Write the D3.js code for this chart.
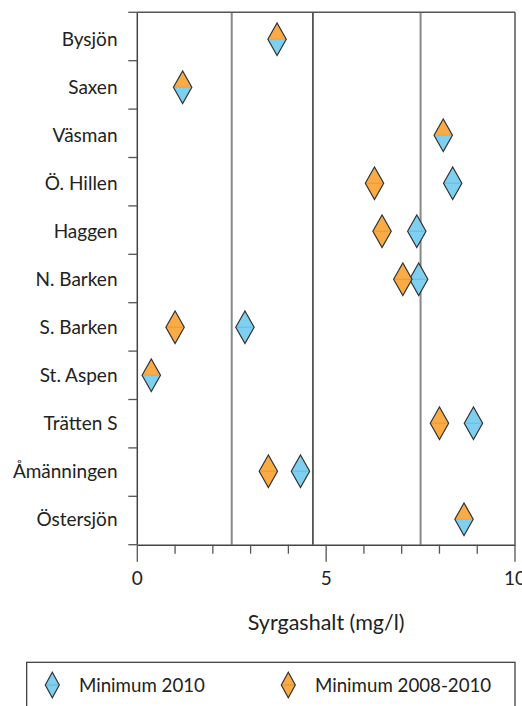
<!DOCTYPE html>
<html>
<head>
<meta charset="utf-8">
<script src="https://cdn.jsdelivr.net/npm/d3@7"></script>
<style>
  html, body { margin: 0; padding: 0; background: #fff; }
  svg { display: block; }
  text { font-family: "Lato", "Open Sans", sans-serif; fill: #222; }
</style>
</head>
<body>
<script>
// Lakes, top to bottom
const lakes = ["Bysjön", "Saxen", "Väsman", "Ö. Hillen", "Haggen", "N. Barken",
               "S. Barken", "St. Aspen", "Trätten S", "Åmänningen", "Östersjön"];
// Lowest oxygen content (mg/l)
const min2010     = [3.7, 1.2, 8.1, 8.35, 7.4, 7.45, 2.85, 0.37, 8.9, 4.32, 8.65];
const min20082010 = [3.7, 1.2, 8.1, 6.28, 6.48, 7.03, 1.0, 0.37, 8.0, 3.47, 8.65];
// Vertical reference levels
const refLevels = [2.5, 4.65, 7.5];
const xTicks = [0, 1, 2, 3, 4, 5, 6, 7, 8, 9, 10];
const xTickLabels = [0, 5, 10];
const seriesNames = ["Minimum 2010", "Minimum 2008-2010"];

const W = 522, H = 706;
const plotLeft = 137.3, plotRight = 515, plotTop = 12.3, plotBottom = 544.7;
const colBlue = "#7fcff1", colOrange = "#fbab45";
const midBlue = "#5fb0d6", midOrange = "#d98f33";

const svg = d3.select("body").append("svg").attr("width", W).attr("height", H);

const x = d3.scaleLinear().domain([0, 10]).range([plotLeft, plotRight]);
// Row positions for markers and labels
const y = d3.scalePoint().domain(lakes).range([39.3, 519.3]);
// Row separators along the left axis
const sep = d3.scaleLinear().domain([0, lakes.length]).range([plotTop, plotBottom]);

// Reference lines
svg.selectAll("line.ref").data(refLevels).join("line")
  .attr("class", "ref")
  .attr("x1", d => x(d)).attr("x2", d => x(d))
  .attr("y1", plotTop).attr("y2", plotBottom)
  .attr("stroke", (d, i) => i === 1 ? "#111" : "#888")
  .attr("stroke-width", (d, i) => i === 1 ? 1.3 : 2);

// Frame: top and right
svg.append("line").attr("x1", x(0)).attr("x2", x(10)).attr("y1", plotTop).attr("y2", plotTop)
  .attr("stroke", "#555").attr("stroke-width", 1.5);
svg.append("line").attr("x1", x(10)).attr("x2", x(10)).attr("y1", plotTop).attr("y2", plotBottom)
  .attr("stroke", "#555").attr("stroke-width", 1.5);

// Y axis
const yAxisG = svg.append("g");
yAxisG.append("line").attr("x1", x(0)).attr("x2", x(0)).attr("y1", plotTop).attr("y2", plotBottom)
  .attr("stroke", "#444").attr("stroke-width", 1.5);
yAxisG.selectAll("line.tk").data(d3.range(lakes.length + 1)).join("line")
  .attr("class", "tk")
  .attr("x1", x(0) - 9).attr("x2", x(0))
  .attr("y1", d => sep(d)).attr("y2", d => sep(d))
  .attr("stroke", "#555").attr("stroke-width", 1.3);
yAxisG.selectAll("text").data(lakes).join("text")
  .attr("x", 117.5)
  .attr("y", d => y(d))
  .attr("dy", "0.35em")
  .attr("text-anchor", "end")
  .attr("font-size", 19)
  .text(d => d);

// X axis
const xAxis = d3.axisBottom(x).tickValues(xTicks).tickSize(0).tickFormat("");
const xg = svg.append("g").attr("transform", `translate(0,${plotBottom})`).call(xAxis);
xg.select(".domain").attr("stroke", "#444").attr("stroke-width", 1.5);
xg.selectAll("line.xt").data(xTicks).join("line")
  .attr("class", "xt")
  .attr("x1", d => x(d)).attr("x2", d => x(d))
  .attr("y1", 0).attr("y2", d => xTickLabels.includes(d) ? 17 : 9)
  .attr("stroke", "#555").attr("stroke-width", 1.3);
xg.selectAll("text.xl").data(xTickLabels).join("text")
  .attr("class", "xl")
  .attr("x", d => x(d)).attr("y", 34)
  .attr("dy", "0.35em")
  .attr("text-anchor", "middle")
  .attr("font-size", 19)
  .text(d => d);

svg.append("text")
  .attr("x", (x(0) + x(10)) / 2).attr("y", 622).attr("dy", "0.35em")
  .attr("text-anchor", "middle").attr("font-size", 21.5)
  .text("Syrgashalt (mg/l)");

// Diamond built from an upper and a lower triangle
function upper(cx, cy, hw, hh) {
  return `M${cx - hw},${cy}L${cx},${cy - hh}L${cx + hw},${cy}Z`;
}
function lower(cx, cy, hw, hh) {
  return `M${cx - hw},${cy}L${cx},${cy + hh}L${cx + hw},${cy}Z`;
}
function diamond(g, cx, cy, hw, hh, topFill, botFill, midStroke) {
  g.append("path").attr("d", upper(cx, cy, hw, hh)).attr("fill", topFill);
  g.append("path").attr("d", lower(cx, cy, hw, hh)).attr("fill", botFill);
  g.append("line").attr("x1", cx - hw).attr("x2", cx + hw).attr("y1", cy).attr("y2", cy)
    .attr("stroke", midStroke).attr("stroke-width", 0.8);
  g.append("path")
    .attr("d", `M${cx - hw},${cy}L${cx},${cy - hh}L${cx + hw},${cy}L${cx},${cy + hh}Z`)
    .attr("fill", "none").attr("stroke", "#333").attr("stroke-width", 1.2);
}

const HW = 9.2, HH = 16.3;
const marks = svg.append("g");
lakes.forEach((lake, i) => {
  const cy = y(lake);
  const a = min2010[i], b = min20082010[i];
  if (Math.abs(a - b) < 1e-9) {
    diamond(marks, x(b), cy, HW, HH, colOrange, colBlue, "#c9a060");
  } else {
    diamond(marks, x(a), cy, HW, HH, colBlue, colBlue, midBlue);
    diamond(marks, x(b), cy, HW, HH, colOrange, colOrange, midOrange);
  }
});

// Legend
const lg = svg.append("g");
lg.append("rect").attr("x", 26.7).attr("y", 662.3).attr("width", 488.3).attr("height", 60)
  .attr("fill", "none").attr("stroke", "#333").attr("stroke-width", 1.2);
const legendItems = [
  { name: seriesNames[0], fill: colBlue, mid: midBlue, mx: 52.3, tx: 79 },
  { name: seriesNames[1], fill: colOrange, mid: midOrange, mx: 288.3, tx: 315 }
];
legendItems.forEach(it => {
  diamond(lg, it.mx, 685, 7, 12.8, it.fill, it.fill, it.mid);
  lg.append("text").attr("x", it.tx).attr("y", 685).attr("dy", "0.35em")
    .attr("font-size", 18.7).text(it.name);
});
</script>
</body>
</html>
